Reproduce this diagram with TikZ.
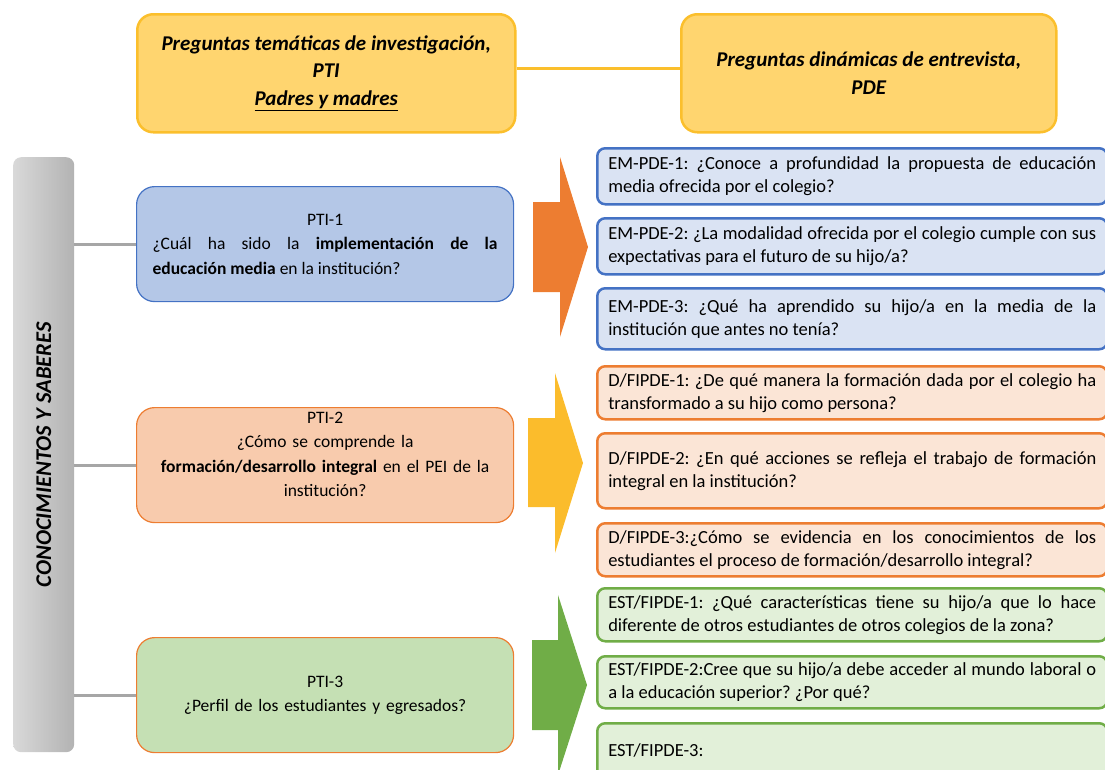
\documentclass[tikz,border=0pt]{standalone}
\usepackage{fontspec}
\setmainfont{Carlito}
\usetikzlibrary{positioning}
\frenchspacing

\definecolor{hdrfill}{HTML}{FFD56F}
\definecolor{hdrline}{HTML}{FBBF2C}
\definecolor{bluefill}{HTML}{B4C7E7}
\definecolor{blueline}{HTML}{4472C4}
\definecolor{bluelight}{HTML}{DAE3F3}
\definecolor{orangefill}{HTML}{F8CBAD}
\definecolor{orangeline}{HTML}{ED7D31}
\definecolor{orangelight}{HTML}{FBE5D6}
\definecolor{greenfill}{HTML}{C5E0B4}
\definecolor{greenline}{HTML}{70AD47}
\definecolor{greenlight}{HTML}{E2F0D9}
\definecolor{yellowarrow}{HTML}{FBBC2C}
\definecolor{barline}{HTML}{A6A6A6}

\begin{document}
\begin{tikzpicture}[
  x=1pt, y=1pt,
  header/.style={rectangle, rounded corners=16pt, draw=hdrline, line width=2.5pt, fill=hdrfill,
    minimum width=378pt, minimum height=118pt, align=center, anchor=north west,
    font=\fontsize{21}{27.5}\selectfont\bfseries\itshape},
  pti/.style={rectangle, rounded corners=18pt, line width=1.2pt, minimum width=377pt,
    text width=345pt, inner xsep=16pt, anchor=north west,
    font=\fontsize{17.5}{24.5}\selectfont},
  pde/.style={rectangle, rounded corners=8pt, line width=2.5pt, minimum width=510pt,
    text width=488pt, inner xsep=11pt, align=justify, anchor=north west,
    font=\fontsize{18.5}{23}\selectfont},
  bluebox/.style={pde, draw=blueline, fill=bluelight},
  orangebox/.style={pde, draw=orangeline, fill=orangelight},
  greenbox/.style={pde, draw=greenline, fill=greenlight},
  link/.style={draw=barline, line width=3pt}
]
\useasboundingbox (0,0) rectangle (1105,-769);

% headers
\node [header] (hpti) at (136,-13) {Preguntas temáticas de investigación,\\PTI\\\underline{Padres y madres}};
\node [header, minimum width=375pt] (hpde) at (680,-13) {Preguntas dinámicas de entrevista,\\PDE};
\draw [hdrline, line width=3pt] ([yshift=5pt]hpti.east) -- ([yshift=5pt]hpde.west);

% side bar
\node [rectangle, rounded corners=8pt, left color=black!15, right color=black!30,
  minimum width=61pt, minimum height=595pt, anchor=north west] (bar) at (13,-157) {};
\node [rotate=90, font=\fontsize{22.5}{26}\selectfont\bfseries\itshape] (bartext) at (bar.center) {CONOCIMIENTOS Y SABERES};

% PTI boxes
\node [pti, draw=blueline, fill=bluefill, align=justify, minimum height=115pt] (pti1) at (136,-186)
  {\centering PTI-1\par ¿Cuál ha sido la \textbf{implementación de la}\linebreak \textbf{educación media} en la institución?};
\node [pti, draw=orangeline, fill=orangefill, align=center, minimum height=115pt, text depth=95pt] (pti2) at (136,-407)
  {PTI-2\\¿Cómo se comprende la\\\textbf{formación/desarrollo integral} en el PEI de la\\institución?};
\node [pti, draw=orangeline, fill=greenfill, align=center, minimum height=115pt] (pti3) at (136,-637)
  {PTI-3\\¿Perfil de los estudiantes y egresados?};

\draw [link] (bar.east |- pti1.west) -- (pti1.west);
\draw [link] (bar.east |- pti2.west) -- (pti2.west);
\draw [link] (bar.east |- pti3.west) -- (pti3.west);

% block arrows
\fill [orangeline] (533,-202) -- (560,-202) -- (560,-157) -- (588,-247) -- (560,-337)
  -- (560,-292) -- (533,-292) -- cycle;
\fill [yellowarrow] (528,-418) -- (555,-418) -- (555,-373) -- (583,-463) -- (555,-553)
  -- (555,-507) -- (528,-507) -- cycle;
\fill [greenline] (532,-640) -- (558,-640) -- (558,-595) -- (587,-685) -- (558,-775)
  -- (558,-730) -- (532,-730) -- cycle;

% PDE boxes
\node [bluebox, minimum height=56pt] (em1) at (596,-147)
  {EM-PDE-1: ¿Conoce a profundidad la propuesta de educación\linebreak media ofrecida por el colegio?};
\node [bluebox, minimum height=56pt] (em2) at (596,-217)
  {EM-PDE-2: ¿La modalidad ofrecida por el colegio cumple con sus\linebreak expectativas para el futuro de su hijo/a?};
\node [bluebox, minimum height=61pt] (em3) at (596,-287)
  {EM-PDE-3: ¿Qué ha aprendido su hijo/a en la media de la\linebreak institución que antes no tenía?};

\node [orangebox, minimum height=53pt] (df1) at (596,-365)
  {D/FIPDE-1: ¿De qué manera la formación dada por el colegio ha\linebreak transformado a su hijo como persona?};
\node [orangebox, minimum height=75pt] (df2) at (596,-432)
  {D/FIPDE-2: ¿En qué acciones se refleja el trabajo de formación\linebreak integral en la institución?};
\node [orangebox, minimum height=53pt] (df3) at (596,-522)
  {D/FIPDE-3:¿Cómo se evidencia en los conocimientos de los\linebreak estudiantes el proceso de formación/desarrollo integral?};

\node [greenbox, minimum height=53pt] (est1) at (596,-587)
  {EST/FIPDE-1: ¿Qué características tiene su hijo/a que lo hace\linebreak diferente de otros estudiantes de otros colegios de la zona?};
\node [greenbox, minimum height=52pt] (est2) at (596,-655)
  {EST/FIPDE-2:Cree que su hijo/a debe acceder al mundo laboral o\linebreak a la educación superior? ¿Por qué?};
\node [greenbox, minimum height=54pt] (est3) at (596,-722)
  {EST/FIPDE-3:};
\end{tikzpicture}
\end{document}
